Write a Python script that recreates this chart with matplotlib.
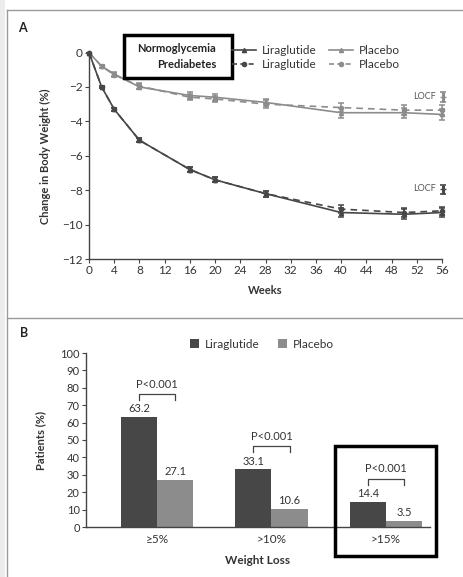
import matplotlib.pyplot as plt
from matplotlib.patches import Rectangle
from matplotlib.lines import Line2D
import numpy as np

plt.rcParams['font.family'] = ['Lato', 'DejaVu Sans']

# Panel A data
weeks = [0, 2, 4, 8, 16, 20, 28, 40, 50, 56]
lira_normo = [0, -2.0, -3.3, -5.1, -6.8, -7.4, -8.2, -9.3, -9.4, -9.3]
plac_normo = [0, -0.8, -1.25, -2.0, -2.5, -2.6, -2.9, -3.5, -3.5, -3.6]
lira_pre = [0, -2.0, -3.3, -5.1, -6.8, -7.4, -8.2, -9.1, -9.3, -9.2]
plac_pre = [0, -0.8, -1.3, -1.95, -2.6, -2.7, -3.0, -3.2, -3.35, -3.35]
err_lira = [0, 0.08, 0.1, 0.12, 0.15, 0.15, 0.18, 0.25, 0.28, 0.25]
err_plac = [0, 0.1, 0.12, 0.15, 0.18, 0.2, 0.22, 0.28, 0.3, 0.3]
locf_lira = [-7.95]
locf_plac = [-2.6]

# Panel B data
categories = ['\u22655%', '>10%', '>15%']
lira_pct = [63.2, 33.1, 14.4]
plac_pct = [27.1, 10.6, 3.5]

DARK = '#474747'
LIGHT = '#8c8c8c'
W, H = 463, 577

fig = plt.figure(figsize=(W / 100, H / 100), dpi=100)


def fx(px):
    return px / W


def fy(py):
    return 1 - py / H


# ---- Panel A ----
axA = fig.add_axes([fx(89), fy(259), fx(442) - fx(89), fy(52.5) - fy(259)])
common = dict(markersize=3, lw=1.2, capsize=2, elinewidth=1.1, capthick=1.1, clip_on=False)
axA.errorbar(weeks, plac_pre, yerr=err_plac, color=LIGHT, ls=(0, (4, 3)), marker='o', **common)
axA.errorbar(weeks, plac_normo, yerr=err_plac, color=LIGHT, ls='-', marker='^', **common)
axA.errorbar(weeks, lira_pre, yerr=err_lira, color=DARK, ls=(0, (4, 3)), marker='o', **common)
axA.errorbar(weeks, lira_normo, yerr=err_lira, color=DARK, ls='-', marker='^', **common)
axA.errorbar([56.2], locf_plac, yerr=[0.3], color=LIGHT, marker='_', markersize=4,
             capsize=2, elinewidth=2.2, capthick=1.2, clip_on=False)
axA.errorbar([56.2], locf_lira, yerr=[0.25], color=DARK, marker='_', markersize=4,
             capsize=2, elinewidth=2.2, capthick=1.2, clip_on=False)
axA.text(55.0, locf_plac[0] + 0.05, 'LOCF', fontsize=6.5, color='#555555', ha='right', va='center')
axA.text(55.0, locf_lira[0] + 0.05, 'LOCF', fontsize=6.5, color='#555555', ha='right', va='center')

axA.set_xlim(0, 56)
axA.set_ylim(-12, 0)
axA.set_xticks(np.arange(0, 57, 4))
axA.set_yticks(np.arange(-12, 1, 2))
axA.set_yticklabels([f'\u2212{abs(v)}' if v < 0 else '0' for v in range(-12, 1, 2)])
for s in ['top', 'right']:
    axA.spines[s].set_visible(False)
for s in ['left', 'bottom']:
    axA.spines[s].set_color('#444444')
    axA.spines[s].set_linewidth(1.0)
axA.tick_params(labelsize=8.5, length=3, color='#444444', labelcolor='#333333', pad=1.5)
axA.set_xlabel('Weeks', fontsize=8, fontweight='bold', color='#333333', labelpad=6)
axA.set_ylabel('Change in Body Weight (%)', fontsize=8, fontweight='bold', color='#333333', labelpad=8)

handles = [
    Line2D([], [], color=DARK, ls='-', marker='^', markersize=3, lw=1.2),
    Line2D([], [], color=DARK, ls=(0, (3, 2)), marker='o', markersize=3, lw=1.2),
    Line2D([], [], color=LIGHT, ls='-', marker='^', markersize=3, lw=1.2),
    Line2D([], [], color=LIGHT, ls=(0, (3, 2)), marker='o', markersize=3, lw=1.2),
]
fig.legend(handles, ['Liraglutide', 'Liraglutide', 'Placebo', 'Placebo'], ncol=2,
           loc='upper left', bbox_to_anchor=(fx(226), fy(39)), frameon=False,
           fontsize=8.5, handlelength=2.0, handletextpad=0.5, columnspacing=1.1,
           labelspacing=0.25, borderpad=0, labelcolor='#333333')
fig.text(fx(216), fy(48), 'Normoglycemia', fontsize=8, fontweight='bold', ha='right', va='center', color='#222222')
fig.text(fx(216), fy(64), 'Prediabetes', fontsize=8, fontweight='bold', ha='right', va='center', color='#222222')
fig.text(fx(18), fy(28), 'A', fontsize=9, fontweight='bold', ha='left', va='center', color='#222222')

# ---- Panel B ----
axB = fig.add_axes([fx(86), fy(527), fx(430) - fx(86), fy(353) - fy(527)])
x = np.arange(len(categories))
bw = 0.316
axB.bar(x - bw / 2, lira_pct, bw, color=DARK, label='Liraglutide')
axB.bar(x + bw / 2, plac_pct, bw, color=LIGHT, label='Placebo')
for i in range(len(categories)):
    axB.text(x[i] - bw / 2, lira_pct[i] + 1.5, f'{lira_pct[i]}', ha='center', va='bottom', fontsize=8, color='#333333')
    axB.text(x[i] + bw / 2, plac_pct[i] + 1.5, f'{plac_pct[i]}', ha='center', va='bottom', fontsize=8, color='#333333')
    top = lira_pct[i] + 13.3
    axB.plot([x[i] - bw / 2, x[i] - bw / 2, x[i] + bw / 2, x[i] + bw / 2],
             [top - 3.5, top, top, top - 3.5], color='#444444', lw=0.9)
    axB.text(x[i], top + 2.5, 'P<0.001', ha='center', va='bottom', fontsize=8, color='#333333')

axB.set_xlim(-0.62, 2.385)
axB.set_ylim(0, 100)
axB.set_yticks(np.arange(0, 101, 10))
axB.set_xticks(x)
axB.set_xticklabels(categories)
for s in ['top', 'right']:
    axB.spines[s].set_visible(False)
for s in ['left', 'bottom']:
    axB.spines[s].set_color('#444444')
    axB.spines[s].set_linewidth(1.0)
axB.tick_params(axis='y', labelsize=8, length=3, color='#444444', labelcolor='#333333', pad=1.5)
axB.tick_params(axis='x', labelsize=8.5, length=0, labelcolor='#333333', pad=5)
axB.set_xlabel('Weight Loss', fontsize=8.5, fontweight='bold', color='#333333', labelpad=7)
axB.set_ylabel('Patients (%)', fontsize=8, fontweight='bold', color='#333333', labelpad=10)
fig.legend(*axB.get_legend_handles_labels(), ncol=2, loc='center left',
           bbox_to_anchor=(fx(184), fy(344)), frameon=False, fontsize=8.5,
           handlelength=0.8, handleheight=0.8, handletextpad=0.5, columnspacing=1.5,
           borderpad=0, labelcolor='#333333')
fig.text(fx(20), fy(333), 'B', fontsize=9, fontweight='bold', ha='left', va='center', color='#222222')

# ---- frame lines and highlight boxes ----
fig.add_artist(Rectangle((0, 0), fx(5), 1, transform=fig.transFigure, color='#ececec', lw=0))
fig.add_artist(Line2D([fx(7), fx(7)], [0, fy(10)], transform=fig.transFigure, color='#9a9a9a', lw=1))
fig.add_artist(Line2D([fx(7), 1], [fy(10), fy(10)], transform=fig.transFigure, color='#9a9a9a', lw=1))
fig.add_artist(Line2D([fx(7), 1], [fy(318), fy(318)], transform=fig.transFigure, color='#9a9a9a', lw=1))
fig.add_artist(Rectangle((fx(124), fy(78)), fx(232) - fx(124), fy(35) - fy(78),
                         transform=fig.transFigure, fill=False, ec='black', lw=2.5))
fig.add_artist(Rectangle((fx(335), fy(556)), fx(436) - fx(335), fy(446) - fy(556),
                         transform=fig.transFigure, fill=False, ec='black', lw=2.5))

fig.savefig('out.png', dpi=100)
